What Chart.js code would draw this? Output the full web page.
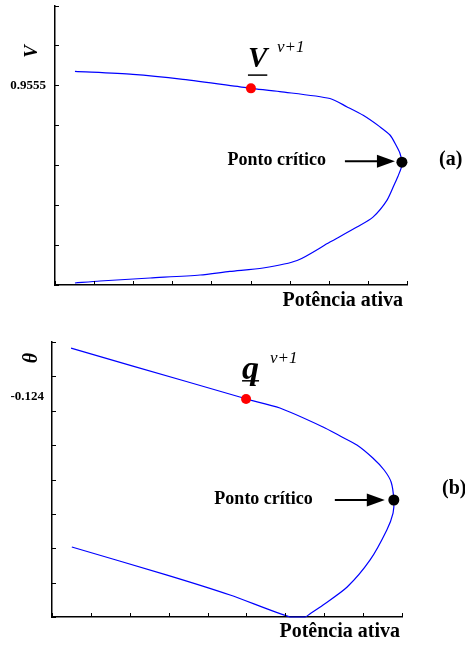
<!DOCTYPE html>
<html><head><meta charset="utf-8">
<script src="https://cdn.jsdelivr.net/npm/chart.js@4.4.0/dist/chart.umd.min.js"></script>
<style>
html,body{margin:0;padding:0;background:#fff;}
#wrap{position:relative;width:465px;height:645px;overflow:hidden;}
#c1{position:absolute;left:0;top:0;width:465px;height:320px;}
#c2{position:absolute;left:0;top:320px;width:465px;height:325px;}
</style></head><body>
<div id="wrap"><canvas id="c1" width="465" height="320"></canvas><canvas id="c2" width="465" height="325"></canvas></div>
<script>
// ---------- DATA ----------
// (a) Potência ativa (arbitrary units, 9 tick intervals) vs tensão V
const potA = [0.51,1.99,3.27,4.73,5.01,5.75,7.03,7.47,7.88,8.31,8.57,8.72,8.82,8.87,8.85,8.77,8.69,8.49,8.13,7.72,7.03,6.19,5.32,4.47,3.71,2.43,1.15,0.51];
const tensA = [0.95585,0.955775,0.95565,0.9554625,0.955425,0.9553425,0.95517,0.95496,0.95475,0.95446,0.95425,0.9540,0.9538,0.953575,0.953425,0.953225,0.95305,0.952625,0.9522,0.95195,0.951575,0.9511125,0.950925,0.95084,0.95075,0.950675,0.9506,0.95055];
const iterA = [5.01, 0.955425];   // V^{v+1}
const critA = [8.87, 0.953575];   // ponto crítico
const yLabelA = ['0.9555'];
const yLabelValA = [0.9555];

// (b) Potência ativa vs ângulo θ
const potB = [0.49,2.08,4.83,4.99,5.86,6.97,7.41,7.84,8.25,8.54,8.72,8.79,8.77,8.61,8.18,7.59,6.97,6.63,6.51,6.12,4.58,2.96,0.51];
const angB = [-0.12044,-0.12175,-0.1240,-0.12415,-0.1248,-0.12618,-0.12684,-0.12749,-0.128436,-0.129309,-0.130182,-0.13149,-0.13244,-0.13367,-0.13585,-0.13782,-0.13913,-0.13978,-0.1400,-0.1400,-0.1384,-0.13695,-0.13491];
const iterB = [4.99, -0.12415];   // θ^{v+1}
const critB = [8.79, -0.13149];
const yLabelB = ['-0.124'];
const yLabelValB = [-0.124];

const xTitle = 'Potência ativa';
const critText = 'Ponto crítico';
const supText = 'v+1';

// ---------- DRAWING ----------
const SERIF = '"Liberation Serif","Times New Roman",serif';

const decor = {
  id: 'decor',
  afterDatasetsDraw(chart, args, o) {
    const {ctx, chartArea: ca, scales: {x, y}} = chart;
    ctx.save();
    // inward tick marks
    ctx.strokeStyle = '#000'; ctx.lineWidth = 1;
    x.ticks.forEach(t => {
      const px = Math.round(x.getPixelForValue(t.value)) + 0.5;
      ctx.beginPath(); ctx.moveTo(px, ca.bottom); ctx.lineTo(px, ca.bottom - 4); ctx.stroke();
    });
    y.ticks.forEach(t => {
      const py = Math.round(y.getPixelForValue(t.value)) + 0.5;
      ctx.beginPath(); ctx.moveTo(ca.left, py); ctx.lineTo(ca.left + 4, py); ctx.stroke();
    });
    ctx.fillStyle = '#000';
    // y value label
    ctx.font = 'bold 13px ' + SERIF; ctx.textAlign = 'right'; ctx.textBaseline = 'middle';
    ctx.fillText(o.yLabel, ca.left - o.yLabelGap, y.getPixelForValue(o.yLabelValue));
    // y title rotated
    ctx.save();
    ctx.translate(ca.left + o.titleDx, ca.top + o.titleDy);
    ctx.rotate(-Math.PI / 2);
    ctx.font = 'italic bold ' + o.titleSize + 'px ' + SERIF; ctx.textAlign = 'center'; ctx.textBaseline = 'middle';
    ctx.fillText(o.yTitle, 0, 0);
    ctx.restore();
    // x title
    ctx.font = 'bold 20px ' + SERIF; ctx.textAlign = 'right'; ctx.textBaseline = 'alphabetic';
    ctx.fillText(xTitle, ca.right + o.xtDx, ca.bottom + o.xtDy);
    // critical point
    const c = chart.getDatasetMeta(2).data[0];
    ctx.textAlign = 'left'; ctx.textBaseline = 'middle';
    ctx.fillText(o.tag, ca.right + o.tagDx, c.y + o.tagDy);
    ctx.font = 'bold 18px ' + SERIF; ctx.textAlign = 'right'; ctx.textBaseline = 'alphabetic';
    ctx.fillText(critText, c.x - o.critGap, c.y + o.critDy);
    // arrow
    const ay = c.y + o.arrowDy, x0 = c.x - o.arrowFrom, x1 = c.x - o.arrowTo;
    ctx.lineWidth = 2;
    ctx.beginPath(); ctx.moveTo(x0, ay); ctx.lineTo(x1 - 14, ay); ctx.stroke();
    ctx.beginPath(); ctx.moveTo(x1, ay); ctx.lineTo(x1 - 18, ay - 6.5); ctx.lineTo(x1 - 18, ay + 6.5); ctx.closePath(); ctx.fill();
    // iterate label
    const r = chart.getDatasetMeta(1).data[0];
    ctx.font = 'italic bold ' + o.markSize + 'px ' + SERIF; ctx.textAlign = 'left'; ctx.textBaseline = 'alphabetic';
    ctx.fillText(o.mark, r.x + o.markDx, r.y + o.markDy);
    const w = ctx.measureText(o.mark).width;
    ctx.fillRect(r.x + o.markDx, r.y + o.ulDy, w, 1.5);
    ctx.font = 'italic 17px ' + SERIF;
    ctx.fillText(supText, r.x + o.supDx, r.y + o.supDy);
    ctx.restore();
  }
};

function makeChart(id, xs, ys, iter, crit, yScale, pad, deco) {
  return new Chart(document.getElementById(id), {
    type: 'scatter',
    data: {
      datasets: [
        { data: xs.map((v, i) => ({x: v, y: ys[i]})), showLine: true, borderColor: '#0000ff', borderWidth: 1.2, pointRadius: 0, tension: 0.25, clip: false, order: 2 },
        { data: [{x: iter[0], y: iter[1]}], pointRadius: 5, backgroundColor: '#ff0000', borderColor: '#ff0000', borderWidth: 0, clip: false, order: 0 },
        { data: [{x: crit[0], y: crit[1]}], pointRadius: 5.5, backgroundColor: '#000', borderColor: '#000', borderWidth: 0, clip: false, order: 0 }
      ]
    },
    options: {
      responsive: false, animation: false, devicePixelRatio: 1,
      layout: { padding: pad },
      plugins: { legend: { display: false }, tooltip: { enabled: false }, decor: deco },
      scales: {
        x: { type: 'linear', min: 0, max: 9, ticks: { display: false, stepSize: 1 },
             grid: { display: false, drawTicks: false }, border: { display: true, color: '#000', width: 1.5 },
             afterFit: s => { s.height = 0; } },
        y: { type: 'linear', min: yScale[0], max: yScale[1], ticks: { display: false, stepSize: yScale[2] },
             grid: { display: false, drawTicks: false }, border: { display: true, color: '#000', width: 1.5 },
             afterFit: s => { s.width = 0; } }
      }
    },
    plugins: [decor]
  });
}

makeChart('c1', potA, tensA, iterA, critA, [0.9505, 0.9575, 0.001],
  { left: 55, right: 58, top: 5, bottom: 35 },
  { yLabel: yLabelA[0], yLabelValue: yLabelValA[0], yLabelGap: 9, yTitle: 'V', titleSize: 19, titleDx: -23, titleDy: 46,
    xtDx: -4, xtDy: 21, tag: '(a)', tagDx: 32, tagDy: -2, critGap: 76, critDy: 3,
    arrowDy: -1, arrowFrom: 57, arrowTo: 7,
    mark: 'V', markSize: 29, markDx: -3, markDy: -21, ulDy: -14, supDx: 26, supDy: -36 });

makeChart('c2', potB, angB, iterB, critB, [-0.140, -0.120, 0.0025],
  { left: 52, right: 63, top: 22, bottom: 28 },
  { yLabel: yLabelB[0], yLabelValue: yLabelValB[0], yLabelGap: 8, yTitle: 'θ', titleSize: 20, titleDx: -20, titleDy: 16,
    xtDx: -2, xtDy: 20, tag: '(b)', tagDx: 40, tagDy: -11, critGap: 81, critDy: 4,
    arrowDy: 0, arrowFrom: 59, arrowTo: 9,
    mark: 'q', markSize: 34, markDx: -4, markDy: -20, ulDy: -19, supDx: 24, supDy: -36 });
</script>
</body></html>
